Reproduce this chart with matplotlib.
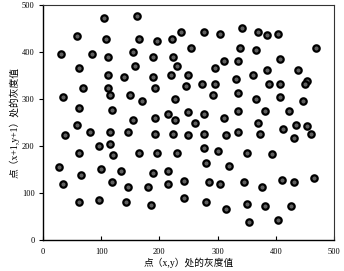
import numpy as np
import matplotlib
matplotlib.use("Agg")
import matplotlib.pyplot as plt

# Gray value of pixel (x,y) vs gray value of pixel (x+1,y+1)
gray_xy = [105, 161, 58, 108, 165, 196, 222, 237, 277, 304, 342, 369, 385, 404,
           31, 84, 112, 155, 189, 223, 254, 338, 366, 469,
           62, 158, 230, 311, 335, 407, 295, 385, 438,
           112, 139, 189, 220, 249, 361, 332, 454, 450,
           246, 273, 295, 388, 407, 69, 112, 192,
           34, 115, 149, 170, 227, 292, 335, 366, 407, 447,
           62, 119, 215, 249, 277, 335, 381, 423,
           58, 155, 192, 227, 261, 311, 369, 412, 435, 454,
           38, 81, 115, 146, 192, 223, 249, 277, 314, 335, 373, 431, 460,
           115, 96, 62, 120, 165, 196, 230, 277, 301, 350, 393,
           280, 320, 27, 100, 134, 215, 65, 189,
           119, 34, 146, 180, 215, 242, 285, 304, 345, 376, 411, 431, 466,
           62, 96, 143, 186, 242, 280, 314, 350, 381, 426, 354, 404]
gray_x1y1 = [472, 477, 434, 428, 428, 423, 428, 443, 443, 438, 451, 443, 436, 438,
             396, 396, 389, 400, 389, 389, 409, 409, 404, 409,
             366, 370, 370, 381, 381, 385, 366, 362, 362,
             351, 347, 347, 351, 351, 351, 343, 338, 332,
             328, 332, 332, 332, 332, 323, 323, 323,
             304, 309, 309, 296, 300, 309, 313, 300, 304, 296,
             281, 277, 268, 272, 268, 275, 275, 275,
             245, 255, 260, 255, 249, 260, 249, 236, 245, 243,
             223, 230, 230, 230, 226, 226, 223, 226, 223, 230, 226, 217, 226,
             204, 200, 185, 181, 185, 185, 185, 196, 189, 185, 183,
             164, 157, 155, 151, 147, 147, 138, 143,
             123, 119, 113, 113, 119, 126, 123, 119, 123, 113, 128, 123, 132,
             81, 85, 81, 74, 89, 81, 66, 77, 72, 72, 38, 43]

x_label = "点（x,y）处的灰度值"
y_label = "点（x+1,y+1）处的灰度值"
tick_values = [0, 100, 200, 300, 400, 500]

plt.rcParams['font.family'] = ['Liberation Serif', 'Noto Sans CJK SC']

fig = plt.figure(figsize=(3.44, 2.71), dpi=100)
ax = fig.add_axes([0.125, 0.114, 0.846, 0.868])

# dark balls with a lighter core
ax.scatter(gray_xy, gray_x1y1, s=21, facecolor='#606060', edgecolor='black',
           linewidth=1.6, zorder=3)

ax.set_xlim(0, 500)
ax.set_ylim(0, 500)
ax.set_xticks(tick_values)
ax.set_yticks(tick_values)
ax.tick_params(axis='x', direction='in', length=3, labelsize=6, pad=6)
ax.tick_params(axis='y', direction='out', length=3, labelsize=6, pad=3)

ax.set_xlabel(x_label, fontsize=7, labelpad=1)
ax.set_ylabel(y_label, fontsize=7, labelpad=2)

for side in ['top', 'right']:
    ax.spines[side].set_linewidth(0.8)
    ax.spines[side].set_color('#333333')
for side in ['left', 'bottom']:
    ax.spines[side].set_linewidth(1.0)

fig.savefig("out.png", dpi=100)
